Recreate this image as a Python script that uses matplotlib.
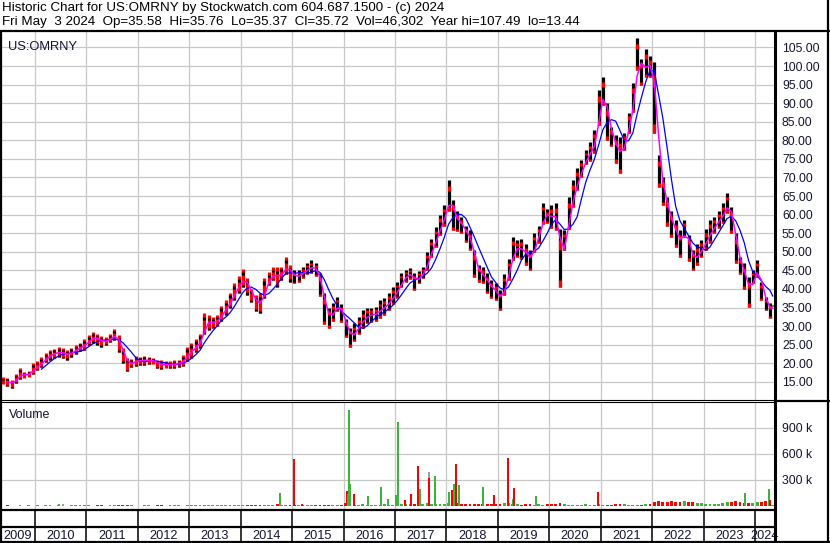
import numpy as np
import pandas as pd
import matplotlib
matplotlib.use("Agg")
import matplotlib.pyplot as plt

plt.rcParams['font.family'] = ['Liberation Sans', 'DejaVu Sans']

# monthly high / low (May 2009 .. May 2024)
hi_2009 = [16.2, 16.0, 15.4, 17.0, 18.6, 17.6, 18.0, 20.0]
lo_2009 = [14.3, 14.0, 13.44, 14.8, 15.8, 15.9, 16.2, 17.0]
hi_2010 = [20.5, 21.6, 22.8, 23.6, 23.9, 24.3, 24.0, 23.6, 24.2, 24.8, 25.5, 26.6]
lo_2010 = [18.2, 19.0, 20.2, 21.0, 21.5, 21.8, 21.3, 21.0, 21.8, 22.5, 23.2, 23.5]
hi_2011 = [27.5, 28.5, 28.0, 27.2, 27.0, 27.8, 29.3, 27.5, 24.0, 21.5, 21.2, 22.0]
lo_2011 = [24.8, 25.5, 25.0, 24.5, 24.8, 25.6, 26.2, 23.0, 20.0, 17.8, 19.0, 19.3]
hi_2012 = [21.8, 22.0, 21.8, 21.5, 21.0, 20.8, 20.6, 20.5, 20.8, 21.0, 22.2, 24.5]
lo_2012 = [19.5, 19.6, 19.8, 19.7, 18.6, 18.4, 18.6, 18.8, 18.7, 19.0, 19.3, 20.5]
hi_2013 = [25.5, 26.5, 28.0, 33.5, 33.0, 32.5, 33.0, 35.5, 37.0, 39.0, 41.5, 43.5]
lo_2013 = [21.5, 23.0, 24.0, 28.0, 29.0, 29.5, 30.0, 31.5, 33.0, 35.0, 37.0, 39.0]
hi_2014 = [45.3, 43.0, 40.0, 38.5, 38.8, 43.0, 44.5, 45.8, 45.8, 46.0, 48.5, 46.5]
lo_2014 = [40.5, 38.5, 36.5, 34.0, 33.4, 37.5, 41.0, 42.3, 40.5, 42.5, 44.0, 42.0]
hi_2015 = [45.0, 45.2, 46.0, 46.9, 47.7, 47.0, 44.2, 38.8, 35.0, 36.1, 37.7, 36.0]
lo_2015 = [41.5, 42.0, 43.0, 44.0, 44.2, 43.5, 38.0, 30.5, 29.6, 31.5, 34.0, 31.0]
hi_2016 = [32.0, 29.6, 30.7, 32.5, 34.2, 35.0, 35.0, 35.2, 36.9, 37.5, 38.8, 40.5]
lo_2016 = [27.0, 24.5, 26.0, 28.0, 29.5, 30.7, 31.0, 31.5, 32.3, 33.0, 34.2, 36.0]
hi_2017 = [42.0, 44.2, 45.0, 45.5, 44.2, 44.8, 45.8, 50.0, 53.5, 56.6, 60.0, 62.5]
lo_2017 = [37.5, 40.4, 42.0, 42.8, 39.6, 41.5, 43.0, 45.0, 48.5, 51.2, 54.5, 57.0]
hi_2018 = [69.3, 64.0, 61.0, 59.3, 57.0, 55.8, 50.5, 46.5, 45.8, 44.2, 42.5, 41.5]
lo_2018 = [61.0, 55.8, 55.5, 55.0, 52.5, 50.5, 43.1, 42.0, 41.5, 38.8, 37.5, 36.9]
hi_2019 = [39.6, 44.0, 48.0, 53.9, 53.1, 53.5, 52.0, 50.4, 55.0, 57.0, 63.1, 61.5]
lo_2019 = [34.2, 38.5, 42.5, 47.7, 48.5, 48.0, 46.5, 45.0, 50.0, 52.3, 57.5, 57.7]
hi_2020 = [62.5, 63.1, 56.0, 55.8, 64.7, 69.3, 72.5, 74.7, 77.4, 79.5, 82.8, 93.6]
lo_2020 = [56.5, 55.8, 40.6, 50.4, 56.0, 62.0, 66.5, 70.1, 73.5, 74.5, 76.6, 84.0]
hi_2021 = [97.0, 90.0, 83.6, 81.5, 81.0, 82.0, 87.4, 95.5, 107.49, 101.8, 104.5, 102.6]
lo_2021 = [89.5, 80.1, 78.5, 74.0, 71.2, 77.5, 82.0, 87.5, 99.0, 95.0, 97.0, 97.0]
hi_2022 = [101.0, 76.0, 70.1, 64.7, 61.0, 58.5, 55.8, 58.5, 54.5, 50.4, 52.0, 53.1]
lo_2022 = [82.0, 67.5, 62.5, 57.0, 54.0, 51.2, 48.5, 53.9, 47.5, 45.0, 46.5, 48.5]
hi_2023 = [56.0, 58.5, 59.3, 61.0, 63.1, 65.8, 62.0, 55.0, 48.5, 47.0, 43.1, 45.0]
lo_2023 = [50.5, 52.3, 55.0, 56.5, 57.7, 60.5, 55.0, 46.9, 44.0, 40.0, 35.2, 41.5]
hi_2024 = [47.7, 42.0, 37.8, 36.1, 35.76]
lo_2024 = [43.1, 37.0, 34.2, 32.1, 35.37]

# monthly background volume (thousands)
vol_2009 = [5, 6, 4, 5, 8, 5, 6, 5]
vol_2010 = [6, 5, 8, 6, 5, 7, 6, 5, 6, 8, 6, 7]
vol_2011 = [6, 5, 7, 6, 5, 6, 8, 7, 6, 9, 6, 5]
vol_2012 = [5, 6, 8, 5, 6, 7, 5, 6, 8, 6, 5, 7]
vol_2013 = [8, 6, 10, 7, 8, 9, 6, 7, 8, 6, 7, 9]
vol_2014 = [8, 7, 9, 8, 7, 9, 8, 10, 20, 12, 10, 8]
vol_2015 = [15, 12, 10, 9, 10, 12, 9, 15, 12, 10, 9, 14]
vol_2016 = [30, 25, 15, 12, 18, 14, 10, 12, 15, 18, 14, 16]
vol_2017 = [22, 18, 20, 25, 28, 20, 25, 30, 22, 25, 20, 22]
vol_2018 = [30, 35, 30, 25, 20, 18, 22, 25, 20, 18, 22, 28]
vol_2019 = [25, 35, 30, 25, 20, 15, 18, 20, 15, 18, 15, 20]
vol_2020 = [20, 22, 30, 18, 15, 14, 12, 15, 18, 12, 15, 20]
vol_2021 = [15, 12, 14, 18, 22, 18, 15, 14, 16, 14, 18, 22]
vol_2022 = [40, 55, 50, 45, 60, 48, 40, 55, 50, 42, 35, 30]
vol_2023 = [22, 25, 20, 18, 30, 45, 40, 55, 48, 35, 30, 38]
vol_2024 = [50, 45, 55, 60, 15]

# single-day volume spikes (decimal year, thousands, colour)
spike_t = [2010.47, 2010.55, 2014.76, 2015.03, 2015.19, 2016.06, 2016.08, 2016.10,
           2016.12, 2016.20, 2016.47, 2016.73, 2016.86, 2017.02, 2017.06, 2017.19,
           2017.31, 2017.45, 2017.49, 2017.66, 2017.67, 2017.78, 2018.05, 2018.11,
           2018.15, 2018.19, 2018.25, 2018.71, 2018.93, 2019.20, 2019.30, 2019.32,
           2019.75, 2020.94, 2023.80, 2024.27, 2024.29]
spike_v = [20, 25, 150, 540, 25, 170, 140, 1108,
           250, 140, 115, 220, 80, 125, 960, 70,
           140, 460, 200, 390, 320, 345, 160, 185,
           250, 480, 240, 220, 125, 555, 80, 210,
           115, 160, 150, 195, 70]
spike_c = ['gr', 'gy', 'gr', 'r', 'r', 'r', 'gr', 'gr',
           'gr', 'r', 'gr', 'gr', 'gr', 'gr', 'gr', 'r',
           'r', 'r', 'gr', 'gy', 'r', 'gr', 'gr', 'r',
           'gr', 'r', 'gr', 'gr', 'r', 'r', 'gr', 'r',
           'gr', 'r', 'gr', 'gr', 'r']

years = list(range(2009, 2025))
price_ticks = list(range(15, 110, 5))
vol_ticks = [300, 600, 900]

hi = np.array(hi_2009 + hi_2010 + hi_2011 + hi_2012 + hi_2013 + hi_2014 + hi_2015 + hi_2016
              + hi_2017 + hi_2018 + hi_2019 + hi_2020 + hi_2021 + hi_2022 + hi_2023 + hi_2024)
lo = np.array(lo_2009 + lo_2010 + lo_2011 + lo_2012 + lo_2013 + lo_2014 + lo_2015 + lo_2016
              + lo_2017 + lo_2018 + lo_2019 + lo_2020 + lo_2021 + lo_2022 + lo_2023 + lo_2024)
vol = np.array(vol_2009 + vol_2010 + vol_2011 + vol_2012 + vol_2013 + vol_2014 + vol_2015
               + vol_2016 + vol_2017 + vol_2018 + vol_2019 + vol_2020 + vol_2021 + vol_2022
               + vol_2023 + vol_2024)

months = pd.date_range("2009-05-01", "2024-05-01", freq="MS")
t = np.array(months.year + (months.month - 0.5) / 12)
t[-1] = 2024.345

mid = (hi + lo) / 2
ma_fast = pd.Series(mid).rolling(2).mean()
ma_slow = pd.Series(mid).rolling(5).mean()
ma_slow[t < 2010.05] = np.nan

colmap = {'r': '#ff0000', 'gr': '#3cb43c', 'gy': '#a0a0a0'}
GRID = '#c8c8c8'
LBL = '#141432'
W, H = 830, 543
XL = (2009.318, 2024.39)

fig = plt.figure(figsize=(W / 100, H / 100), dpi=100)
fig.patch.set_facecolor('white')

def frac(x0, y0, x1, y1):
    return [x0 / W, 1 - y1 / H, (x1 - x0) / W, (y1 - y0) / H]

# ---- price panel
ax = fig.add_axes(frac(0, 31.5, 775, 400))
ax.set_xlim(*XL)
ax.set_ylim(10.1, 109.3)
for yv in price_ticks:
    ax.axhline(yv, color=GRID, lw=0.9, zorder=0)
for yr in years[1:]:
    ax.axvline(yr, color=GRID, lw=0.9, zorder=0)

main = np.where(t < 2015, '#ff0000', '#000000')
accent = np.where(t < 2015, '#000000', '#ff0000')
span = hi - lo
ax.vlines(t, lo, hi, colors=main, lw=2.3, zorder=2)
ax.vlines(t, mid + span * 0.15, mid + span * 0.32, colors=accent, lw=2.3, zorder=2)
ax.vlines(t, lo, lo + span * 0.12, colors=accent, lw=2.3, zorder=2)
ax.plot(t, ma_slow, color='#0000ff', lw=0.9, zorder=3)
ax.plot(t, ma_fast, color='#ff00ff', lw=1.1, zorder=3)

ax.set_yticks(price_ticks)
ax.set_yticklabels([f"{v:.2f}" for v in price_ticks])
ax.tick_params(axis='y', left=False, labelleft=False, right=False, labelright=True,
               length=0, pad=5, labelsize=8.8, labelcolor=LBL)
ax.set_xticks([])
for s in ['left', 'right', 'top']:
    ax.spines[s].set_visible(False)
ax.spines['bottom'].set_color('black')
ax.spines['bottom'].set_linewidth(0.8)
ax.text(0.010, 0.975, "US:OMRNY", transform=ax.transAxes, fontsize=9.3, color=LBL,
        ha='left', va='top')

# ---- volume panel
axv = fig.add_axes(frac(0, 401.5, 775, 509))
axv.set_xlim(*XL)
axv.set_ylim(-35, 1200)
for yv in vol_ticks:
    axv.axhline(yv, color=GRID, lw=0.9, zorder=0)
for yr in years[1:]:
    axv.axvline(yr, color=GRID, lw=0.9, zorder=0)

up = np.r_[True, mid[1:] >= mid[:-1]]
vcol = np.where(up, '#3cb43c', '#ff0000')
axv.bar(t, vol, width=0.055, bottom=0, color=vcol, zorder=2)
axv.bar(spike_t, spike_v, width=0.04, color=[colmap[c] for c in spike_c],
        linewidth=0, zorder=3)

axv.set_yticks(vol_ticks)
axv.set_yticklabels([f"{v} k" for v in vol_ticks])
axv.tick_params(axis='y', left=False, labelleft=False, right=False, labelright=True,
                length=0, pad=5, labelsize=8.8, labelcolor=LBL)
axv.set_xticks([])
for s in ['left', 'right', 'bottom']:
    axv.spines[s].set_visible(False)
axv.spines['top'].set_color('black')
axv.spines['top'].set_linewidth(0.8)
axv.text(0.011, 0.93, "Volume", transform=axv.transAxes, fontsize=9.0, color=LBL,
         ha='left', va='top')

# ---- year strip
axy = fig.add_axes(frac(0, 509, 775, 543))
axy.set_xlim(*XL)
axy.set_ylim(0, 1)
axy.axis('off')
for yr in years[1:]:
    axy.axvline(yr, color='black', lw=1.1)
for yr in years:
    a = max(yr, XL[0])
    b = min(yr + 1, XL[1])
    axy.text((a + b) / 2, 0.22, str(yr), ha='center', va='center', fontsize=9.2,
             color=LBL)

# ---- frame lines in pixel space
axf = fig.add_axes([0, 0, 1, 1], facecolor='none')
axf.set_xlim(0, W)
axf.set_ylim(H, 0)
axf.axis('off')
k = dict(color='black', solid_capstyle='butt')
axf.plot([0, W], [31, 31], lw=1.6, **k)
axf.plot([1, 1], [31, H], lw=1.6, **k)
axf.plot([828, 828], [0, H], lw=1.6, **k)
axf.plot([775, 775], [31, H], lw=2.2, **k)
axf.plot([0, W], [542, 542], lw=1.6, **k)
axf.plot([775, W], [401, 401], lw=1.6, **k)
axf.plot([0, 775], [509.5, 509.5], lw=1.6, **k)
axf.plot([0, 775], [527, 527], lw=1.6, **k)

fig.text(2 / W, 1 - 8 / H,
         "Historic Chart for US:OMRNY by Stockwatch.com 604.687.1500 - (c) 2024",
         fontsize=9.65, ha='left', va='center', color='black')
fig.text(2 / W, 1 - 22 / H,
         "Fri May  3 2024  Op=35.58  Hi=35.76  Lo=35.37  Cl=35.72  Vol=46,302  "
         "Year hi=107.49  lo=13.44",
         fontsize=9.65, ha='left', va='center', color='black')

fig.savefig("out.png", dpi=100, facecolor='white')
